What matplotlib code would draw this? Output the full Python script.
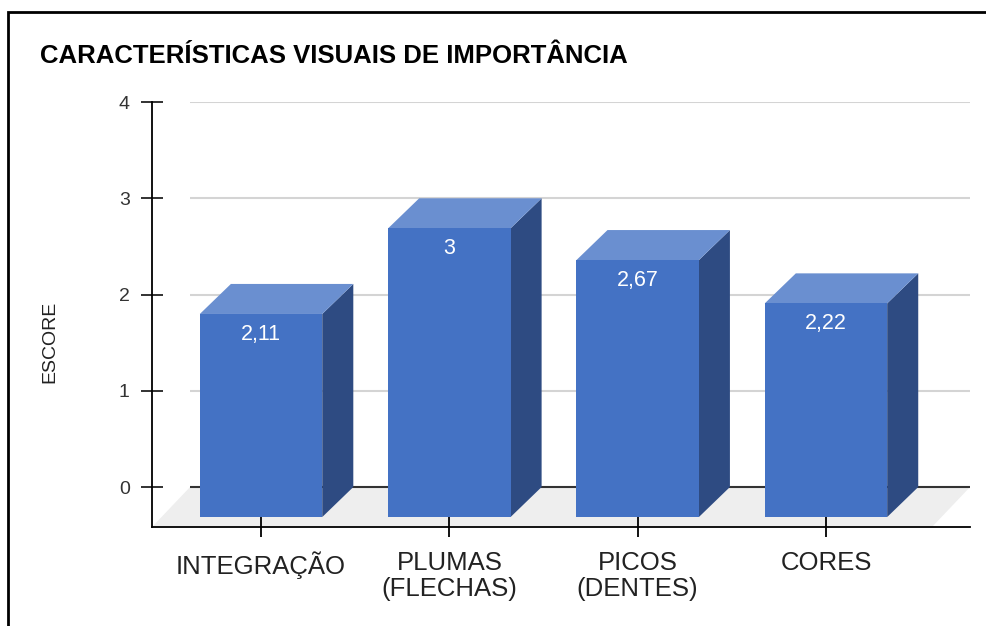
import matplotlib.pyplot as plt
from matplotlib.patches import Rectangle

plt.rcParams['font.family'] = ['Liberation Sans', 'DejaVu Sans']

# dados do grafico
categorias = ["INTEGRAÇÃO", "PLUMAS\n(FLECHAS)", "PICOS\n(DENTES)", "CORES"]
escores = [2.11, 3.0, 2.67, 2.22]
rotulos = ["2,11", "3", "2,67", "2,22"]
y_ticks = [0, 1, 2, 3, 4]

# cores das faces
cor_frente = '#4472C4'
cor_topo = '#6A8FD0'
cor_lado = '#2E4B82'

# profundidade (efeito 3D) em unidades de dados
dx_bar, dy_bar = 0.165, 0.312
dx_piso, dy_piso = 0.202, 0.4156
largura = 0.65
xmin, xmax = -0.579, 3.765

fig = plt.figure(figsize=(9.87, 6.26), dpi=100)
ax = fig.add_axes([0.1540, 0.1581, 0.8288, 0.6789])
ax.set_xlim(xmin, xmax)
ax.set_ylim(-dy_piso, 4.0)

# piso
ax.fill([xmin, xmin + dx_piso, xmax, xmax - dx_piso],
        [-dy_piso, 0, 0, -dy_piso], color='#EEEEEE', zorder=1, lw=0)

# grade da parede do fundo
for t in y_ticks:
    cor = '#333333' if t == 0 else '#D4D4D4'
    ax.plot([xmin + dx_piso, xmax], [t, t], color=cor, lw=1.5, zorder=1.5,
            solid_capstyle='butt')

# barras 3D
for i, v in enumerate(escores):
    x0, x1 = i - largura / 2, i + largura / 2
    yb, yt = -dy_bar, v - dy_bar
    ax.fill([x1, x1 + dx_bar, x1 + dx_bar, x1], [yb, 0, v, yt],
            color=cor_lado, zorder=3, lw=0)
    ax.fill([x0, x1, x1 + dx_bar, x0 + dx_bar], [yt, yt, v, v],
            color=cor_topo, zorder=3, lw=0)
    ax.fill([x0, x1, x1, x0], [yb, yb, yt, yt],
            color=cor_frente, zorder=3, lw=0)
    ax.text(i, yt - 0.21, rotulos[i], ha='center', va='center',
            color='white', fontsize=15.5, zorder=4)

for s in ['top', 'right']:
    ax.spines[s].set_visible(False)
for s in ['left', 'bottom']:
    ax.spines[s].set_linewidth(1.3)
    ax.spines[s].set_zorder(5)

ax.set_yticks(y_ticks)
ax.set_xticks(range(len(categorias)))
ax.set_xticklabels(categorias, fontsize=18.5, linespacing=1.08)
ax.tick_params(axis='y', direction='inout', length=16, width=1.3,
               labelsize=14, pad=8, colors='#222222', labelcolor='#333333')
ax.tick_params(axis='x', direction='inout', length=15, width=1.3,
               pad=10, colors='black', labelcolor='#222222')

ax.set_ylabel('ESCORE', fontsize=14, color='#222222', va='center')
ax.yaxis.set_label_coords(-0.1247, 0.435)

fig.text(40 / 987, 1 - 63 / 626, 'CARACTERÍSTICAS VISUAIS DE IMPORTÂNCIA',
         fontsize=18.5, fontweight='bold', va='baseline', ha='left')

# moldura
fig.patches.append(Rectangle((8 / 987, -0.1), 1.2, 1.1 - 12 / 626,
                             transform=fig.transFigure, fill=False,
                             edgecolor='black', lw=2))

fig.savefig('out.png', dpi=100)
